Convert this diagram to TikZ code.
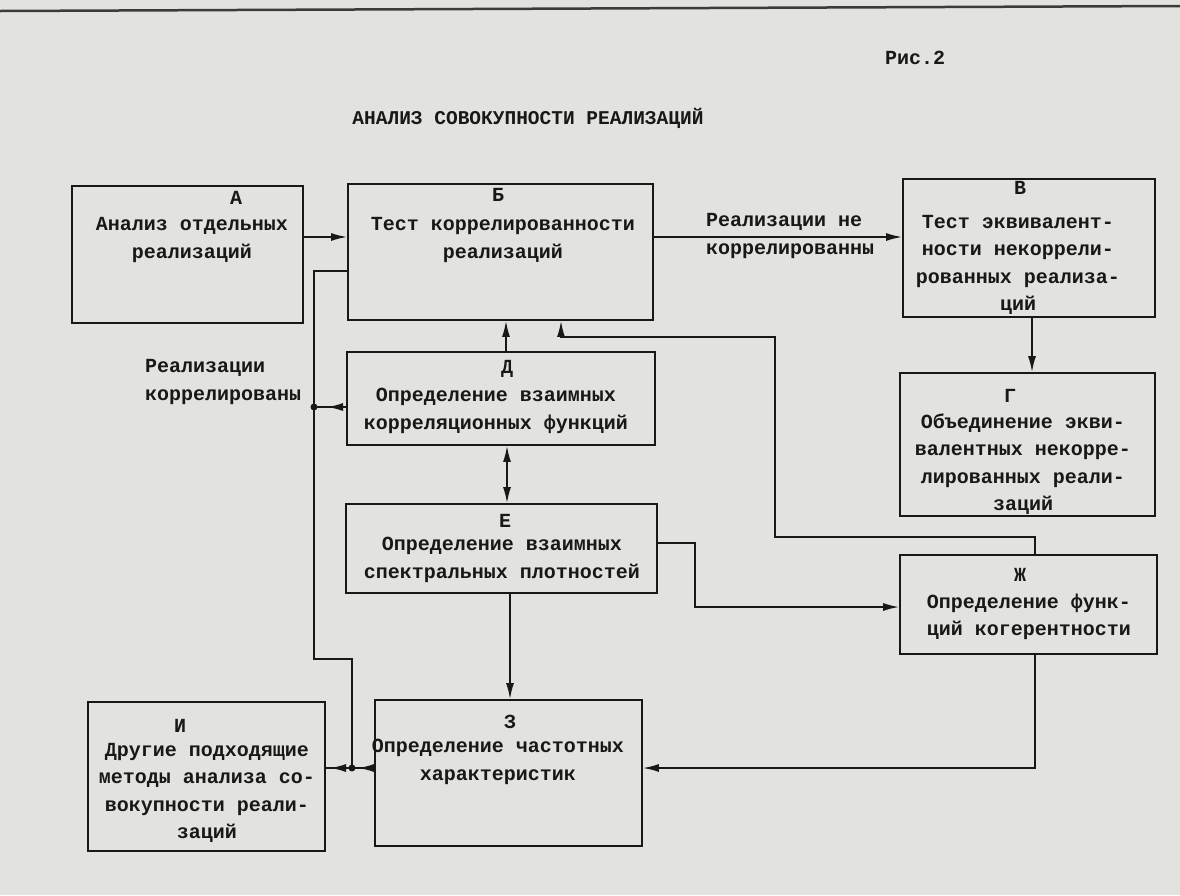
\documentclass[tikz,border=0pt]{standalone}
\usepackage{fontspec}
\newfontfamily\tw{Liberation Mono}
\usetikzlibrary{arrows.meta}
\definecolor{paper}{RGB}{226,226,222}
\definecolor{ink}{RGB}{24,24,24}
\tikzset{
  box/.style={draw=ink, line width=1.7pt, rectangle, inner sep=0pt},
  txt/.style={font=\tw\bfseries\fontsize{20}{27.5}\selectfont, text=ink, align=center, inner sep=0pt},
  lbl/.style={font=\tw\bfseries\fontsize{20}{28}\selectfont, text=ink, inner sep=0pt},
  conn/.style={draw=ink, line width=1.7pt},
  tipL/.tip={Latex[length=16pt,width=8pt]},
  arr/.style={conn, -tipL},
  dot/.style={circle, fill=ink, inner sep=0pt, minimum size=7pt},
}
\begin{document}
\begin{tikzpicture}[x=1pt,y=-1pt]
\useasboundingbox (0,0) rectangle (1180,895);
\fill[paper] (0,0) rectangle (1180,895);
\draw[line width=2.5pt, ink!85] (0,11) -- (1180,6);

% titles
\node[lbl] (fig) at (915,58) {Рис.2};
\node[lbl, font=\tw\bfseries\fontsize{19.5}{28}\selectfont] (title) at (528,118) {АНАЛИЗ СОВОКУПНОСТИ РЕАЛИЗАЦИЙ};

% boxes
\node[box, minimum width=231pt, minimum height=137pt] (A) at (187.5,254.5) {};
\node[box, minimum width=305pt, minimum height=136pt] (B) at (500.5,252) {};
\node[box, minimum width=252pt, minimum height=138pt] (V) at (1029,248) {};
\node[box, minimum width=255pt, minimum height=143pt] (G) at (1027.5,444.5) {};
\node[box, minimum width=308pt, minimum height=93pt] (D) at (501,398.5) {};
\node[box, minimum width=311pt, minimum height=89pt] (E) at (501.5,548.5) {};
\node[box, minimum width=257pt, minimum height=99pt] (Zh) at (1028.5,604.5) {};
\node[box, minimum width=267pt, minimum height=146pt] (Z) at (508.5,773) {};
\node[box, minimum width=237pt, minimum height=149pt] (I) at (206.5,776.5) {};

% box texts
\node[lbl] (Al) at (236,198) {А};
\node[txt] (At) at (192,240) {Анализ отдельных\\реализаций};
\node[lbl] (Bl) at (498,195) {Б};
\node[txt] (Bt) at (503,240) {Тест коррелированности\\реализаций};
\node[lbl] (Vl) at (1020,188) {В};
\node[txt] (Vt) at (1018,265) {Тест эквивалент-\\ности некоррели-\\рованных реализа-\\ций};
\node[lbl] (Gl) at (1010,396) {Г};
\node[txt] (Gt) at (1023,464) {Объединение экви-\\валентных некорре-\\лированных реали-\\заций};
\node[lbl] (Dl) at (507,369) {Д};
\node[txt] (Dt) at (496,411) {Определение взаимных\\корреляционных функций};
\node[lbl] (El) at (505,521) {Е};
\node[txt] (Et) at (502,560) {Определение взаимных\\спектральных плотностей};
\node[lbl] (Zhl) at (1020,575) {Ж};
\node[txt] (Zht) at (1029,617) {Определение функ-\\ций когерентности};
\node[lbl] (Zl) at (510,722) {З};
\node[txt] (Zt) at (498,762) {Определение частотных\\характеристик};
\node[lbl] (Il) at (180,726) {И};
\node[txt] (It) at (207,793) {Другие подходящие\\методы анализа со-\\вокупности реали-\\заций};

% edge labels
\node[lbl, align=left, anchor=west] (nc) at (706,236) {Реализации не\\коррелированны};
\node[lbl, align=left, anchor=west] (cc) at (145,382) {Реализации\\коррелированы};

% connectors
\draw[arr] (A.east |- 0,237) -- (B.west |- 0,237);
\draw[arr] (B.east |- 0,237) -- (V.west |- 0,237);
\draw[arr] (V.south -| 1032,0) -- (G.north -| 1032,0);
\draw[arr] (D.north -| 506,0) -- (B.south -| 506,0);
\draw[conn, tipL-tipL] (D.south -| 507,0) -- (E.north -| 507,0);
\draw[arr] (E.south -| 510,0) -- (Z.north -| 510,0);
\coordinate (e1) at (695,543);
\draw[arr] (E.east |- e1) -- (e1) |- (Zh.west |- 0,607);
\coordinate (j1) at (1035,537);
\coordinate (j2) at (775,537);
\coordinate (j3) at (775,337);
\coordinate (j4) at (561,337);
\draw[arr] (Zh.north -| j1) -- (j1) -- (j2) -- (j3) -- (j4) -- (B.south -| j4);
\coordinate (k1) at (1035,768);
\draw[arr] (Zh.south -| k1) -- (k1) -- (Z.east |- k1);

% left bus
\coordinate (b1) at (314,271);
\coordinate (b2) at (314,659);
\coordinate (b3) at (352,659);
\coordinate (b4) at (352,768);
\coordinate (b5) at (314,407);
\coordinate (b6) at (327,407);
\coordinate (b7) at (330,768);
\coordinate (b8) at (358,768);
\draw[conn] (B.west |- b1) -- (b1) -- (b2) -- (b3) -- (b4);
\draw[conn] (D.west |- b5) -- (b5);
\draw[arr] (D.west |- b5) -- (b6);
\node[dot] (d1) at (b5) {};
\draw[conn] (Z.west |- b4) -- (I.east |- b4);
\draw[arr] (b4) -- (b7);
\draw[arr] (Z.west |- b4) -- (b8);
\node[dot] (d2) at (b4) {};
\end{tikzpicture}
\end{document}
